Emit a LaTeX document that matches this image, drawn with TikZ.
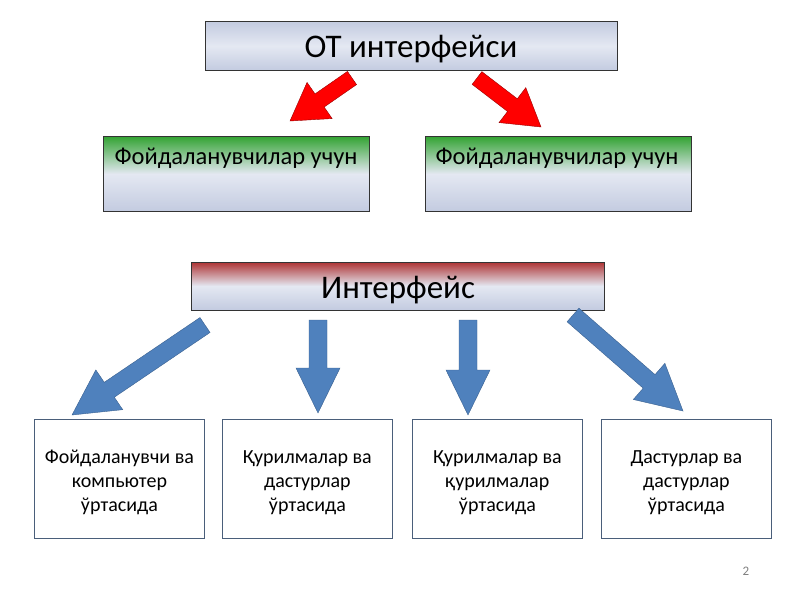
\documentclass[tikz,border=0pt]{standalone}
\usepackage{fontspec}
\setmainfont{Carlito}
\usetikzlibrary{calc}

\definecolor{arrowblue}{HTML}{4F81BD}
\definecolor{arrowedge}{HTML}{3A6190}
\definecolor{boxedge}{HTML}{4A5E7A}
\definecolor{paleblue}{HTML}{E4E8F2}
\definecolor{greyblue}{HTML}{C3CBE0}

% block arrow: {from}{to}{half shaft}{half head}{head length}{style}
\newcommand\blockarr[6]{%
  \coordinate (h) at ($(#2)!#5!(#1)$);
  \draw[#6] ($(#1)!#3!90:(#2)$) -- ($(h)!#3!-90:(#1)$) -- ($(h)!#4!-90:(#1)$)
    -- (#2) -- ($(h)!#4!90:(#1)$) -- ($(h)!#3!90:(#1)$) -- ($(#1)!#3!-90:(#2)$) -- cycle;}

\tikzset{
  titlebox/.style={draw=black!80, thick, minimum height=49pt, top color=greyblue, bottom color=greyblue, middle color=paleblue},
  userbox/.style={draw=black!80, thick, minimum width=266pt, minimum height=75pt, anchor=north west,
    top color=green!55!black!80, bottom color=greyblue, middle color=paleblue},
  levelbox/.style={draw=boxedge, thick, minimum width=170pt, minimum height=119pt, fill=white, anchor=north west,
    align=center, font=\fontsize{20}{24}\selectfont, text depth=-8pt},
  redarr/.style={fill=red, draw=red!60!black, thin},
  bluearr/.style={fill=arrowblue, draw=arrowedge, thin},
}

\begin{document}
\begin{tikzpicture}[x=1pt, y=-1pt]
  \useasboundingbox[fill=white] (0,0) rectangle (800,600);

  % Top title
  \node [titlebox, minimum width=412pt] (os) at (411,46) {};
  \node [font=\fontsize{33}{36}\selectfont] (ost) at (411,49) {ОТ интерфейси};

  % User boxes
  \node [userbox] (u1) at (103,136) {};
  \node [font=\fontsize{24.5}{28}\selectfont] (u1t) at (236,158) {Фойдаланувчилар учун};
  \node [userbox] (u2) at (425,136) {};
  \node [font=\fontsize{24.5}{28}\selectfont] (u2t) at (557,158) {Фойдаланувчилар учун};

  % Red arrows
  \coordinate (r1a) at (352,78);  \coordinate (r1b) at (290,121);
  \coordinate (r2a) at (477,78);  \coordinate (r2b) at (541,127);
  \blockarr{r1a}{r1b}{8pt}{22pt}{36pt}{redarr}
  \blockarr{r2a}{r2b}{8pt}{22pt}{36pt}{redarr}

  % Interface box
  \node [draw=black!80, thick, minimum width=413pt, minimum height=48pt,
    top color=red!60!black!80, bottom color=greyblue, middle color=paleblue] (intf) at (398,286) {};
  \node [font=\fontsize{33}{36}\selectfont] (intft) at (398,290) {Интерфейс};

  % Blue arrows
  \coordinate (b1a) at (205,325); \coordinate (b1b) at (72,415);
  \coordinate (b2a) at (318,320); \coordinate (b2b) at (318,413);
  \coordinate (b3a) at (468,320); \coordinate (b3b) at (468,415);
  \coordinate (b4a) at (573,315); \coordinate (b4b) at (683,411);
  \blockarr{b1a}{b1b}{9pt}{24pt}{45pt}{bluearr}
  \blockarr{b2a}{b2b}{9pt}{22pt}{45pt}{bluearr}
  \blockarr{b3a}{b3b}{9pt}{22pt}{45pt}{bluearr}
  \blockarr{b4a}{b4b}{9pt}{24pt}{45pt}{bluearr}

  % Bottom boxes
  \node [levelbox] (l1) at (34,419)  {\strut Фойдаланувчи ва\\\strut компьютер\\\strut ўртасида};
  \node [levelbox] (l2) at (222,419) {\strut Қурилмалар ва\\\strut дастурлар\\\strut ўртасида};
  \node [levelbox] (l3) at (412,419) {\strut Қурилмалар ва\\\strut қурилмалар\\\strut ўртасида};
  \node [levelbox] (l4) at (601,419) {\strut Дастурлар ва\\\strut дастурлар\\\strut ўртасида};

  \node [text=gray, font=\fontsize{13}{15}\selectfont] (pg) at (746,571) {2};
\end{tikzpicture}
\end{document}
